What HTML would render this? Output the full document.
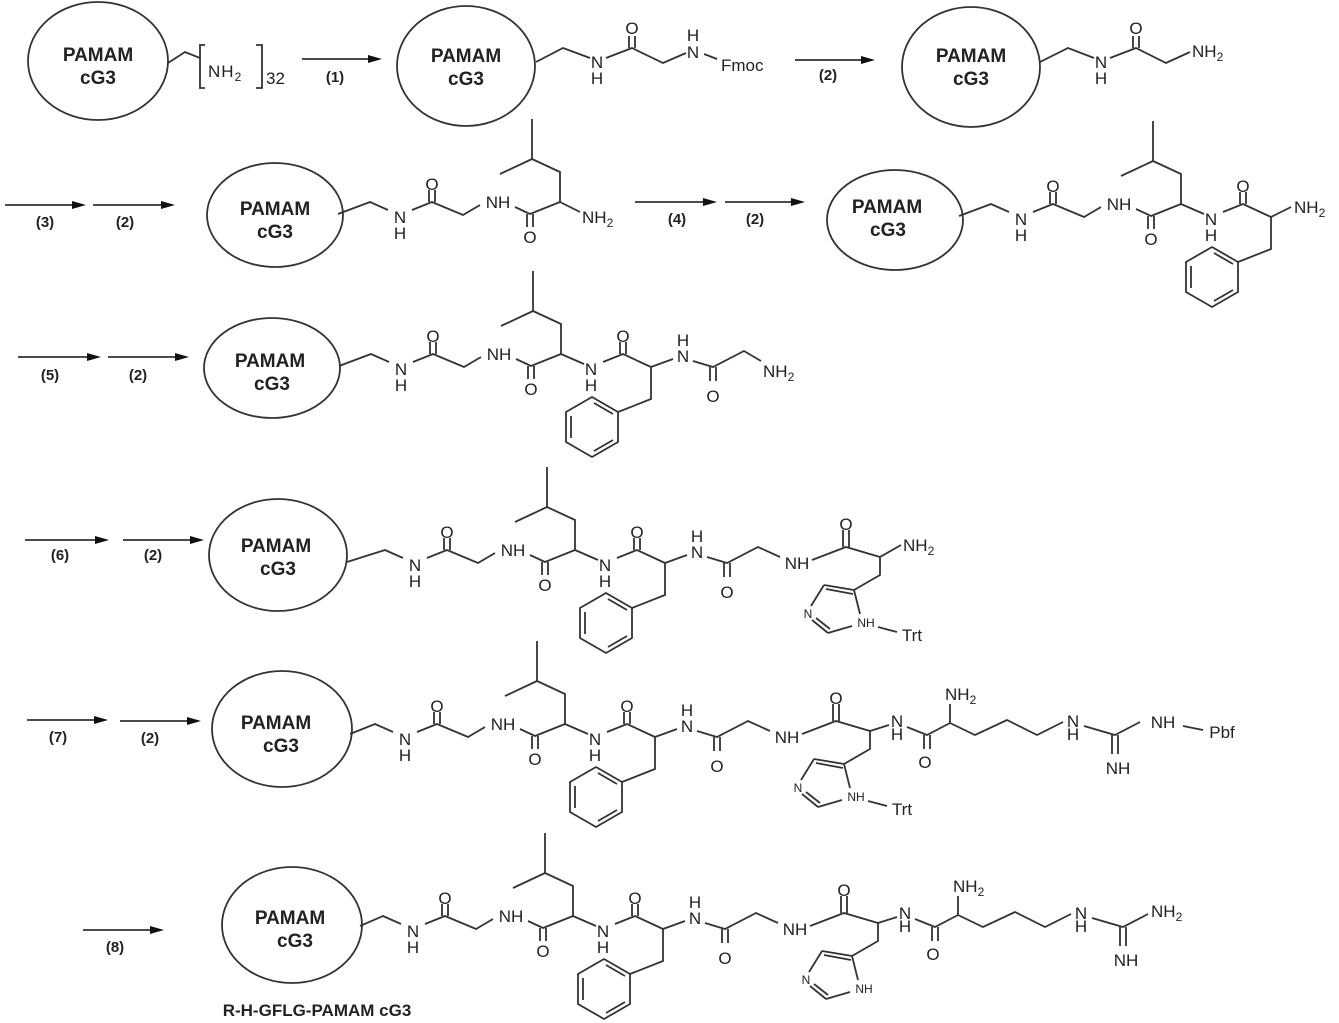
<!DOCTYPE html>
<html><head><meta charset="utf-8"><style>
html,body{margin:0;padding:0;background:#fff;}
svg{display:block;}
text{font-family:"Liberation Sans",sans-serif;fill:#222;}
.t{font-size:17px;text-anchor:middle;}
.s{font-size:17px;}
.r{font-size:12px;text-anchor:middle;}
.b{font-size:19px;font-weight:bold;text-anchor:middle;}
.lb{font-size:15px;font-weight:bold;text-anchor:middle;}
path,line,polyline,polygon.ring{fill:none;stroke:#333;stroke-width:1.8;}
ellipse{fill:none;stroke:#333;stroke-width:1.8;}
polygon.ah{fill:#111;stroke:none;}
</style></head><body>
<svg width="1339" height="1023" viewBox="0 0 1339 1023" xmlns="http://www.w3.org/2000/svg">

<!-- ===== ROW 1 ===== -->
<ellipse cx="98" cy="61" rx="70" ry="59"/>
<text class="b" x="98" y="61">PAMAM</text><text class="b" x="98" y="84">cG3</text>
<path d="M168,63 L185,52 L200,58"/>
<path d="M205,45 H200 V88 H205"/>
<text class="s" x="208" y="77" style="letter-spacing:1px">NH<tspan font-size="12" dy="4">2</tspan></text>
<path d="M256,45 H262 V88 H256"/>
<text class="s" x="266" y="84">32</text>
<line x1="302" y1="59" x2="370" y2="59"/><polygon class="ah" points="382,59 368,55 368,63"/>
<text class="lb" x="335" y="82">(1)</text>

<ellipse cx="466" cy="66" rx="69" ry="60"/>
<text class="b" x="466" y="62">PAMAM</text><text class="b" x="466" y="85">cG3</text>
<path d="M536,62 L563,48 L590,58"/>
<text class="t" x="597" y="68">N</text><text class="t" x="597" y="84">H</text>
<path d="M606,58 L632,48 L663,63 L686,53"/>
<path d="M629,48 V36 M635,48 V36"/>
<text class="t" x="632" y="34">O</text>
<text class="t" x="693" y="58">N</text><text class="t" x="693" y="41">H</text>
<path d="M704,54 L717,59"/>
<text class="s" x="721" y="71">Fmoc</text>
<line x1="795" y1="60" x2="862" y2="60"/><polygon class="ah" points="875,60 861,56 861,64"/>
<text class="lb" x="828" y="80">(2)</text>

<ellipse cx="971" cy="67" rx="69" ry="60"/>
<text class="b" x="971" y="62">PAMAM</text><text class="b" x="971" y="85">cG3</text>
<path d="M1040,62 L1068,48 L1094,58"/>
<text class="t" x="1101" y="68">N</text><text class="t" x="1101" y="84">H</text>
<path d="M1110,58 L1136,48 L1166,63 L1190,52"/>
<path d="M1133,48 V36 M1139,48 V36"/>
<text class="t" x="1136" y="34">O</text>
<text class="s" x="1192" y="57">NH<tspan font-size="12" dy="4">2</tspan></text>

<!-- ===== ARROWS ===== -->
<line x1="5" y1="205" x2="73" y2="205"/><polygon class="ah" points="86,205 72,201 72,209"/><text class="lb" x="45" y="227">(3)</text>
<line x1="93" y1="205" x2="162" y2="205"/><polygon class="ah" points="175,205 161,201 161,209"/><text class="lb" x="125" y="227">(2)</text>
<line x1="635" y1="202" x2="704" y2="202"/><polygon class="ah" points="717,202 703,198 703,206"/><text class="lb" x="677" y="224">(4)</text>
<line x1="725" y1="202" x2="792" y2="202"/><polygon class="ah" points="805,202 791,198 791,206"/><text class="lb" x="755" y="224">(2)</text>
<line x1="18" y1="357" x2="88" y2="357"/><polygon class="ah" points="101,357 87,353 87,361"/><text class="lb" x="50" y="380">(5)</text>
<line x1="108" y1="357" x2="176" y2="357"/><polygon class="ah" points="189,357 175,353 175,361"/><text class="lb" x="138" y="380">(2)</text>
<line x1="25" y1="540" x2="96" y2="540"/><polygon class="ah" points="109,540 95,536 95,544"/><text class="lb" x="60" y="560">(6)</text>
<line x1="123" y1="540" x2="191" y2="540"/><polygon class="ah" points="204,540 190,536 190,544"/><text class="lb" x="153" y="560">(2)</text>
<line x1="27" y1="720" x2="95" y2="720"/><polygon class="ah" points="108,720 94,716 94,724"/><text class="lb" x="58" y="742">(7)</text>
<line x1="120" y1="721" x2="188" y2="721"/><polygon class="ah" points="201,721 187,717 187,725"/><text class="lb" x="150" y="743">(2)</text>
<line x1="83" y1="930" x2="151" y2="930"/><polygon class="ah" points="164,930 150,926 150,934"/><text class="lb" x="115" y="952">(8)</text>

<!-- ===== ELLIPSES ===== -->
<ellipse cx="275" cy="215" rx="68" ry="52"/>
<text class="b" x="275" y="215">PAMAM</text><text class="b" x="275" y="238">cG3</text>
<ellipse cx="895" cy="220" rx="68" ry="50"/>
<text class="b" x="887" y="213">PAMAM</text><text class="b" x="888" y="236">cG3</text>
<ellipse cx="272" cy="368" rx="68" ry="50"/>
<text class="b" x="270" y="367">PAMAM</text><text class="b" x="272" y="390">cG3</text>
<ellipse cx="278" cy="555" rx="69" ry="56"/>
<text class="b" x="276" y="552">PAMAM</text><text class="b" x="278" y="575">cG3</text>
<ellipse cx="282" cy="729" rx="70" ry="58"/>
<text class="b" x="276" y="729">PAMAM</text><text class="b" x="281" y="752">cG3</text>
<ellipse cx="292" cy="925" rx="70" ry="58"/>
<text class="b" x="290" y="924">PAMAM</text><text class="b" x="295" y="947">cG3</text>
<text class="lb" x="317" y="1016" style="font-size:17px">R-H-GFLG-PAMAM cG3</text>

<!-- ===== ROW 2 LEFT ===== -->
<g transform="translate(-15,-348)">
<path d="M353,562 L385,550 L403,558"/>
<text class="t" x="415" y="571">N</text><text class="t" x="415" y="587">H</text>
<path d="M427,558 L447,550 L478,563 L495,553"/><path d="M444,550 V538 M450,550 V538"/>
<text class="t" x="447" y="538">O</text>
<text class="t" x="513" y="556">NH</text>
<path d="M530,555 L545,562 L575,550"/><path d="M542,562 V575 M548,562 V575"/>
<text class="t" x="545" y="591">O</text>
<path d="M575,550 V520 L547,507 V467 M547,507 L515,522"/>
<path d="M575,550 L595,560"/>
<text class="s" x="597" y="571">NH<tspan font-size="12" dy="4">2</tspan></text>
</g>

<!-- ===== ROW 2 RIGHT ===== -->
<g transform="translate(606,-346)">
<path d="M353,562 L385,550 L403,558"/>
<text class="t" x="415" y="571">N</text><text class="t" x="415" y="587">H</text>
<path d="M427,558 L447,550 L478,563 L495,553"/><path d="M444,550 V538 M450,550 V538"/>
<text class="t" x="447" y="538">O</text>
<text class="t" x="513" y="556">NH</text>
<path d="M530,555 L545,562 L575,550"/><path d="M542,562 V575 M548,562 V575"/>
<text class="t" x="545" y="591">O</text>
<path d="M575,550 V520 L547,507 V467 M547,507 L515,522"/>
<path d="M575,550 L598,560"/>
<text class="t" x="605" y="571">N</text><text class="t" x="605" y="587">H</text>
<path d="M617,558 L637,550 L665,563"/><path d="M634,550 V538 M640,550 V538"/>
<text class="t" x="637" y="538">O</text>
<path d="M665,563 V595 L632,608"/>
<polygon class="ring" points="606,593 632,608 632,638 606,653 580,638 580,608"/>
<path d="M608,599 L627,610 M627,636 L608,647 M585,634 V612"/>
<path d="M665,563 L685,553"/>
<text class="s" x="688" y="559">NH<tspan font-size="12" dy="4">2</tspan></text>
</g>

<!-- ===== ROW 3 ===== -->
<g transform="translate(-14,-196)">
<path d="M353,562 L385,550 L403,558"/>
<text class="t" x="415" y="571">N</text><text class="t" x="415" y="587">H</text>
<path d="M427,558 L447,550 L478,563 L495,553"/><path d="M444,550 V538 M450,550 V538"/>
<text class="t" x="447" y="538">O</text>
<text class="t" x="513" y="556">NH</text>
<path d="M530,555 L545,562 L575,550"/><path d="M542,562 V575 M548,562 V575"/>
<text class="t" x="545" y="591">O</text>
<path d="M575,550 V520 L547,507 V467 M547,507 L515,522"/>
<path d="M575,550 L598,560"/>
<text class="t" x="605" y="571">N</text><text class="t" x="605" y="587">H</text>
<path d="M617,558 L637,550 L665,563"/><path d="M634,550 V538 M640,550 V538"/>
<text class="t" x="637" y="538">O</text>
<path d="M665,563 V595 L632,608"/>
<polygon class="ring" points="606,593 632,608 632,638 606,653 580,638 580,608"/>
<path d="M608,599 L627,610 M627,636 L608,647 M585,634 V612"/>
<path d="M665,563 L687,555"/>
<text class="t" x="697" y="558">N</text><text class="t" x="697" y="542">H</text>
<path d="M707,557 L727,563 L758,547 L775,557"/><path d="M724,563 V577 M730,563 V577"/>
<text class="t" x="727" y="598">O</text>
<text class="s" x="777" y="573">NH<tspan font-size="12" dy="4">2</tspan></text>
</g>

<!-- ===== ROW 6 ===== -->
<g>
<path d="M347,562 L385,550 L403,558"/>
<text class="t" x="415" y="571">N</text><text class="t" x="415" y="587">H</text>
<path d="M427,558 L447,550 L478,563 L495,553"/><path d="M444,550 V538 M450,550 V538"/>
<text class="t" x="447" y="538">O</text>
<text class="t" x="513" y="556">NH</text>
<path d="M530,555 L545,562 L575,550"/><path d="M542,562 V575 M548,562 V575"/>
<text class="t" x="545" y="591">O</text>
<path d="M575,550 V520 L547,507 V467 M547,507 L515,522"/>
<path d="M575,550 L598,560"/>
<text class="t" x="605" y="571">N</text><text class="t" x="605" y="587">H</text>
<path d="M617,558 L637,550 L665,563"/><path d="M634,550 V538 M640,550 V538"/>
<text class="t" x="637" y="538">O</text>
<path d="M665,563 V595 L632,608"/>
<polygon class="ring" points="606,593 632,608 632,638 606,653 580,638 580,608"/>
<path d="M608,599 L627,610 M627,636 L608,647 M585,634 V612"/>
<path d="M665,563 L687,555"/>
<text class="t" x="697" y="558">N</text><text class="t" x="697" y="542">H</text>
<path d="M707,557 L727,563 L758,547 L780,557"/><path d="M724,563 V577 M730,563 V577"/>
<text class="t" x="727" y="598">O</text>
<text class="t" x="797" y="569">NH</text>
<path d="M812,560 L846,547 L880,557"/><path d="M843,547 V530 M849,547 V530"/>
<text class="t" x="846" y="530">O</text>
<path d="M880,557 L901,545"/>
<text class="s" x="903" y="551">NH<tspan font-size="12" dy="4">2</tspan></text>
<path d="M880,557 V575 L854,590"/>
<path d="M854,590 L824,585 M853,594 L826,589 M824,585 L811,606 M812,620 L828,633 M816,618 L830,629 M828,633 L852,626 M860,614 L854,590"/>
<text class="r" x="808" y="618">N</text><text class="r" x="866" y="627">NH</text>
<path d="M878,627 L897,632"/>
<text class="t" x="912" y="641">Trt</text>
</g>

<!-- ===== ROW 7 ===== -->
<g transform="translate(-10,174)">
<path d="M360,560 L385,550 L403,558"/>
<text class="t" x="415" y="571">N</text><text class="t" x="415" y="587">H</text>
<path d="M427,558 L447,550 L478,563 L495,553"/><path d="M444,550 V538 M450,550 V538"/>
<text class="t" x="447" y="538">O</text>
<text class="t" x="513" y="556">NH</text>
<path d="M530,555 L545,562 L575,550"/><path d="M542,562 V575 M548,562 V575"/>
<text class="t" x="545" y="591">O</text>
<path d="M575,550 V520 L547,507 V467 M547,507 L515,522"/>
<path d="M575,550 L598,560"/>
<text class="t" x="605" y="571">N</text><text class="t" x="605" y="587">H</text>
<path d="M617,558 L637,550 L665,563"/><path d="M634,550 V538 M640,550 V538"/>
<text class="t" x="637" y="538">O</text>
<path d="M665,563 V595 L632,608"/>
<polygon class="ring" points="606,593 632,608 632,638 606,653 580,638 580,608"/>
<path d="M608,599 L627,610 M627,636 L608,647 M585,634 V612"/>
<path d="M665,563 L687,555"/>
<text class="t" x="697" y="558">N</text><text class="t" x="697" y="542">H</text>
<path d="M707,557 L727,563 L758,547 L780,557"/><path d="M724,563 V577 M730,563 V577"/>
<text class="t" x="727" y="598">O</text>
<text class="t" x="797" y="569">NH</text>
<path d="M812,560 L846,547 L880,557"/><path d="M843,547 V530 M849,547 V530"/>
<text class="t" x="846" y="530">O</text>
<path d="M880,557 V575 L854,590"/>
<path d="M854,590 L824,585 M853,594 L826,589 M824,585 L811,606 M812,620 L828,633 M816,618 L830,629 M828,633 L852,626 M860,614 L854,590"/>
<text class="r" x="808" y="618">N</text><text class="r" x="866" y="627">NH</text>
<path d="M878,627 L897,632"/>
<text class="t" x="912" y="641">Trt</text>
<path d="M880,557 L899,551"/>
<text class="t" x="907" y="553">N</text><text class="t" x="907" y="566">H</text>
<path d="M917,553 L937,561 L960,549 M934,561 V575 M940,561 V575"/>
<text class="t" x="935" y="594">O</text>
<path d="M960,549 V530"/>
<text class="s" x="955" y="526">NH<tspan font-size="12" dy="4">2</tspan></text>
<path d="M960,549 L985,561 L1017,546 L1047,561 L1073,548"/>
<text class="t" x="1083" y="553">N</text><text class="t" x="1083" y="566">H</text>
<path d="M1094,552 L1125,561 L1150,548 M1122,561 V580 M1128,561 V580"/>
<text class="t" x="1128" y="600">NH</text>
<text class="t" x="1173" y="554">NH</text>
<path d="M1193,552 L1213,556"/>
<text class="t" x="1232" y="564">Pbf</text>
</g>

<!-- ===== ROW 8 ===== -->
<g transform="translate(-2,366)">
<path d="M362,560 L385,550 L403,558"/>
<text class="t" x="415" y="571">N</text><text class="t" x="415" y="587">H</text>
<path d="M427,558 L447,550 L478,563 L495,553"/><path d="M444,550 V538 M450,550 V538"/>
<text class="t" x="447" y="538">O</text>
<text class="t" x="513" y="556">NH</text>
<path d="M530,555 L545,562 L575,550"/><path d="M542,562 V575 M548,562 V575"/>
<text class="t" x="545" y="591">O</text>
<path d="M575,550 V520 L547,507 V467 M547,507 L515,522"/>
<path d="M575,550 L598,560"/>
<text class="t" x="605" y="571">N</text><text class="t" x="605" y="587">H</text>
<path d="M617,558 L637,550 L665,563"/><path d="M634,550 V538 M640,550 V538"/>
<text class="t" x="637" y="538">O</text>
<path d="M665,563 V595 L632,608"/>
<polygon class="ring" points="606,593 632,608 632,638 606,653 580,638 580,608"/>
<path d="M608,599 L627,610 M627,636 L608,647 M585,634 V612"/>
<path d="M665,563 L687,555"/>
<text class="t" x="697" y="558">N</text><text class="t" x="697" y="542">H</text>
<path d="M707,557 L727,563 L758,547 L780,557"/><path d="M724,563 V577 M730,563 V577"/>
<text class="t" x="727" y="598">O</text>
<text class="t" x="797" y="569">NH</text>
<path d="M812,560 L846,547 L880,557"/><path d="M843,547 V530 M849,547 V530"/>
<text class="t" x="846" y="530">O</text>
<path d="M880,557 V575 L854,590"/>
<path d="M854,590 L824,585 M853,594 L826,589 M824,585 L811,606 M812,620 L828,633 M816,618 L830,629 M828,633 L852,626 M860,614 L854,590"/>
<text class="r" x="808" y="618">N</text><text class="r" x="866" y="627">NH</text>
<path d="M880,557 L899,551"/>
<text class="t" x="907" y="553">N</text><text class="t" x="907" y="566">H</text>
<path d="M917,553 L937,561 L960,549 M934,561 V575 M940,561 V575"/>
<text class="t" x="935" y="594">O</text>
<path d="M960,549 V530"/>
<text class="s" x="955" y="526">NH<tspan font-size="12" dy="4">2</tspan></text>
<path d="M960,549 L985,561 L1017,546 L1047,561 L1073,548"/>
<text class="t" x="1083" y="553">N</text><text class="t" x="1083" y="566">H</text>
<path d="M1094,552 L1125,561 L1150,548 M1122,561 V580 M1128,561 V580"/>
<text class="t" x="1128" y="600">NH</text>
<text class="s" x="1153" y="551">NH<tspan font-size="12" dy="4">2</tspan></text>
</g>

</svg>
</body></html>
